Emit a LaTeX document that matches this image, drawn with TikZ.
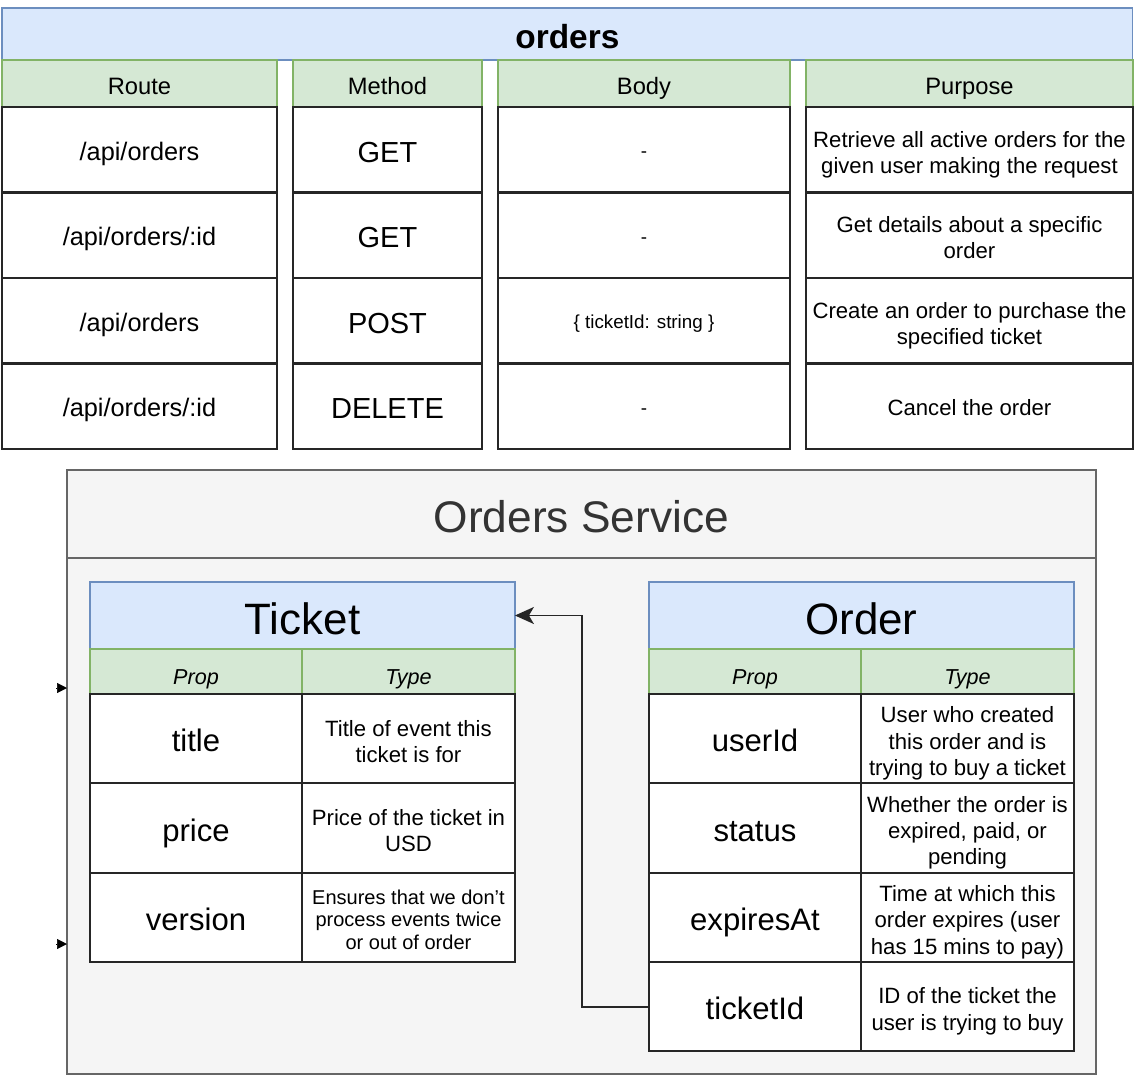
\documentclass[tikz,border=0pt]{standalone}
\usepackage{fontspec}
\setmainfont{Liberation Sans}
\usetikzlibrary{arrows.meta,positioning}
\definecolor{hdrfill}{HTML}{DAE8FC}
\definecolor{hdrline}{HTML}{6C8EBF}
\definecolor{colfill}{HTML}{D5E8D4}
\definecolor{colline}{HTML}{82B366}
\definecolor{svcfill}{HTML}{F5F5F5}
\definecolor{svcline}{HTML}{666666}
\definecolor{svctext}{HTML}{333333}
\newcommand{\cellstrut}{\rule{0pt}{1.15em}}

\begin{document}
\begin{tikzpicture}[x=0.02cm, y=-0.02cm, every node/.style={inner sep=1pt, outer sep=0pt, align=center, anchor=north west, execute at begin node={\rule{0pt}{1.05em}}, execute at end node={\rule[-0.2em]{0pt}{0.2em}}},
  tablehead/.style={draw=hdrline, fill=hdrfill, line width=0.7pt, execute at begin node={\rule{0pt}{0.9em}}},
  colhead/.style={draw=colline, fill=colfill, line width=0.7pt, minimum height=0.94cm, font=\fontsize{13.5}{16}\selectfont, execute at begin node={\rule{0pt}{1.15em}}},
  prophead/.style={colhead, minimum height=0.9cm, font=\itshape\fontsize{12.3}{15}\selectfont, execute at begin node={\rule{0pt}{1.45em}}},
  cell/.style={draw=black!85, fill=white, line width=1.2pt, minimum height=1.71cm},
  propcell/.style={draw=black!85, fill=white, line width=1.2pt, minimum width=4.24cm, minimum height=1.787cm, font=\fontsize{17.7}{21}\selectfont},
  typecell/.style={draw=black!85, fill=white, line width=1.2pt, minimum width=4.26cm, minimum height=1.787cm, font=\fontsize{12.6}{15}\selectfont},
  svcbox/.style={draw=svcline, fill=svcfill, line width=0.9pt, minimum width=20.58cm, execute at begin node={\rule{0pt}{0.9em}}},
  link/.style={-{Stealth[length=0.38cm,width=0.34cm,inset=0.1cm]}, line width=1pt, draw=black!85},
  stub/.style={-{Triangle[length=0.2cm,width=0.2cm]}, line width=0.3pt}]
\fill[white] (0,0) rectangle (1139,1079);
\useasboundingbox (0,0) rectangle (1139,1079);
% routes table
\node[tablehead, minimum width=22.62cm, minimum height=1.04cm, font=\bfseries\fontsize{19}{22}\selectfont] (orders) at (2,8) {orders};
\node[colhead, minimum width=5.5cm] (route) at (2,60) {Route};
\node[colhead, minimum width=3.78cm] (method) at (293,60) {Method};
\node[colhead, minimum width=5.84cm] (body) at (498,60) {Body};
\node[colhead, minimum width=6.54cm] (purpose) at (806,60) {Purpose};
\node[cell, minimum width=5.5cm, below=0pt of route, font=\fontsize{14.4}{17}\selectfont] (routeA) {/api/orders};
\node[cell, minimum width=5.5cm, below=0pt of routeA, font=\fontsize{14.4}{17}\selectfont] (routeB) {/api/orders/:id};
\node[cell, minimum width=5.5cm, below=0pt of routeB, font=\fontsize{14.4}{17}\selectfont] (routeC) {/api/orders};
\node[cell, minimum width=5.5cm, below=0pt of routeC, font=\fontsize{14.4}{17}\selectfont] (routeD) {/api/orders/:id};
\node[cell, minimum width=3.78cm, below=0pt of method, font=\fontsize{16.5}{19}\selectfont] (methodA) {GET};
\node[cell, minimum width=3.78cm, below=0pt of methodA, font=\fontsize{16.5}{19}\selectfont] (methodB) {GET};
\node[cell, minimum width=3.78cm, below=0pt of methodB, font=\fontsize{16.5}{19}\selectfont] (methodC) {POST};
\node[cell, minimum width=3.78cm, below=0pt of methodC, font=\fontsize{16.5}{19}\selectfont] (methodD) {DELETE};
\node[cell, minimum width=5.84cm, below=0pt of body, font=\fontsize{10.7}{13}\selectfont] (bodyA) {-};
\node[cell, minimum width=5.84cm, below=0pt of bodyA, font=\fontsize{10.7}{13}\selectfont] (bodyB) {-};
\node[cell, minimum width=5.84cm, below=0pt of bodyB, font=\fontsize{10.7}{13}\selectfont] (bodyC) {\{ ticketId: string \}};
\node[cell, minimum width=5.84cm, below=0pt of bodyC, font=\fontsize{10.7}{13}\selectfont] (bodyD) {-};
\node[cell, minimum width=6.54cm, below=0pt of purpose, font=\fontsize{12.6}{14.7}\selectfont] (purposeA) {\cellstrut Retrieve all active orders for the\\given user making the request};
\node[cell, minimum width=6.54cm, below=0pt of purposeA, font=\fontsize{12.6}{14.7}\selectfont] (purposeB) {\cellstrut Get details about a specific\\order};
\node[cell, minimum width=6.54cm, below=0pt of purposeB, font=\fontsize{12.6}{14.7}\selectfont] (purposeC) {\cellstrut Create an order to purchase the\\specified ticket};
\node[cell, minimum width=6.54cm, below=0pt of purposeC, font=\fontsize{12.6}{14.7}\selectfont] (purposeD) {Cancel the order};
% service
\node[svcbox, minimum height=1.76cm, text=svctext, font=\fontsize{25.2}{30}\selectfont] (svc) at (67,470) {Orders Service};
\node[svcbox, minimum height=10.32cm, below=0pt of svc] (svcbody) {};
\coordinate (stubA) at (56,688);
\coordinate (stubB) at (56,944);
\draw[stub] (stubA) -- (stubA -| svcbody.west);
\draw[stub] (stubB) -- (stubB -| svcbody.west);
% ticket model
\node[tablehead, minimum width=8.5cm, minimum height=1.34cm, font=\fontsize{25}{30}\selectfont] (ticket) at (90,582) {Ticket};
\node[prophead, minimum width=4.24cm] (tprop) at (90,649) {Prop};
\node[prophead, minimum width=4.26cm] (ttype) at (302,649) {Type};
\node[propcell, below=0pt of tprop] (ttitle) {title};
\node[propcell, below=0pt of ttitle] (tprice) {price};
\node[propcell, below=0pt of tprice] (tversion) {version};
\node[typecell, below=0pt of ttype] (ttitledesc) {\cellstrut Title of event this\\ticket is for};
\node[typecell, below=0pt of ttitledesc] (tpricedesc) {\cellstrut Price of the ticket in\\USD};
\node[typecell, below=0pt of tpricedesc, font=\fontsize{11.4}{12.8}\selectfont] (tversiondesc) {\cellstrut Ensures that we don't\\process events twice\\or out of order};
% order model
\node[tablehead, minimum width=8.5cm, minimum height=1.34cm, font=\fontsize{25}{30}\selectfont] (order) at (649,582) {Order};
\node[prophead, minimum width=4.24cm] (oprop) at (649,649) {Prop};
\node[prophead, minimum width=4.26cm] (otype) at (861,649) {Type};
\node[propcell, below=0pt of oprop] (ouser) {userId};
\node[propcell, below=0pt of ouser] (ostatus) {status};
\node[propcell, below=0pt of ostatus] (oexpires) {expiresAt};
\node[propcell, below=0pt of oexpires] (otkid) {ticketId};
\node[typecell, below=0pt of otype] (ouserdesc) {\cellstrut User who created\\this order and is\\trying to buy a ticket};
\node[typecell, below=0pt of ouserdesc] (ostatusdesc) {\cellstrut Whether the order is\\expired, paid, or\\pending};
\node[typecell, below=0pt of ostatusdesc] (oexpiresdesc) {\cellstrut Time at which this\\order expires (user\\has 15 mins to pay)};
\node[typecell, below=0pt of oexpiresdesc] (otkiddesc) {\cellstrut ID of the ticket the\\user is trying to buy};
\coordinate (elbow) at (582,0);
\draw[link] (otkid.west) -- (elbow |- otkid.west) |- (ticket.east);
\end{tikzpicture}
\end{document}
